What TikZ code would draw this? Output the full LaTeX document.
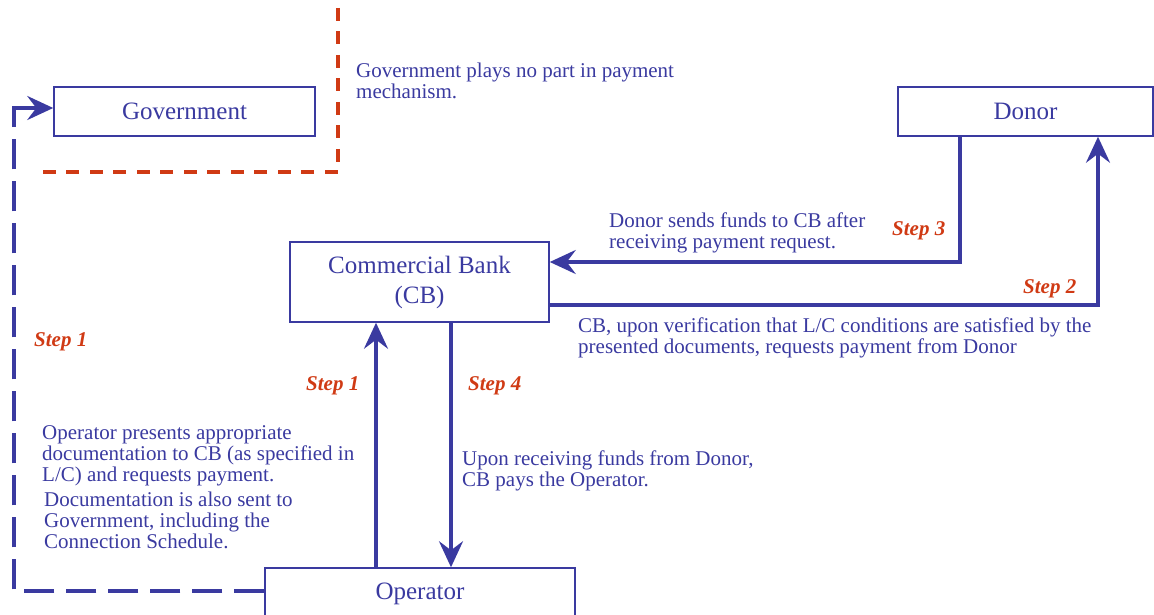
\documentclass[tikz,border=0pt]{standalone}
\usepackage{fontspec}
\setmainfont{Liberation Serif}
\usetikzlibrary{arrows.meta}
\definecolor{nb}{RGB}{58,58,160}
\definecolor{nr}{RGB}{208,58,20}
\tikzset{
  box/.style={draw=nb, line width=1.5pt, minimum height=49pt, inner sep=0pt, text=nb, font=\fontsize{25}{30}\selectfont},
  flow/.style={draw=nb, line width=3.6pt, -{Stealth[length=26pt,width=24pt,inset=9pt]}},
  dashflow/.style={draw=nb, line width=4.2pt, dash pattern=on 30pt off 12pt},
  bound/.style={draw=nr, line width=3.4pt, dash pattern=on 13pt off 10.5pt},
  note/.style={text=nb, align=left, inner sep=0pt, anchor=base west, font=\fontsize{21}{21}\selectfont},
  steplbl/.style={text=nr, inner sep=0pt, anchor=base west, font=\fontsize{21}{24}\selectfont\bfseries\itshape},
}
\begin{document}
\begin{tikzpicture}[x=1pt,y=-1pt]
\useasboundingbox (0,0) rectangle (1154,615);
% boxes
\node[box, minimum width=261pt] (gov) at (184.5,111.5) {Government};
\node[box, minimum width=255pt] (donor) at (1025.5,111.5) {Donor};
\node[box, minimum width=259pt, minimum height=80pt, align=center] (cb) at (419.5,282) {Commercial Bank\\(CB)};
\node[box, minimum width=310pt, minimum height=52pt] (op) at (420,594) {Operator};
% boundary
\draw[bound] (338,8) -- (338,172) -- (42,172);
% connectors
\draw[flow] ([xshift=-44pt]op.north) -- ([xshift=-43.5pt]cb.south);
\draw[flow] ([xshift=31.5pt]cb.south) -- ([xshift=31pt]op.north);
\draw[flow] ([xshift=-65.5pt]donor.south) |- ([yshift=20pt]cb.east);
\draw[flow] ([yshift=-23pt]cb.east) -| ([xshift=72.5pt]donor.south);
\coordinate (gc) at (14,108);
\draw[dashflow] ([yshift=3pt]op.west) -| (gc);
\draw[flow] ([yshift=-2pt]gc) |- (gc -| gov.west);
% texts (anchor at the baseline of the last line)
\node[note] (t1) at (356,99) {Government plays no part in payment\\mechanism.};
\node[note] (t2) at (609,248) {Donor sends funds to CB after\\receiving payment request.};
\node[note] (t3) at (578,353) {CB, upon verification that L/C conditions are satisfied by the\\presented documents, requests payment from Donor};
\node[note] (t4) at (462,486) {Upon receiving funds from Donor,\\CB pays the Operator.};
\node[note] (t5) at (42,481) {Operator presents appropriate\\documentation to CB (as specified in\\L/C) and requests payment.};
\node[note] (t6) at (44,548) {Documentation is also sent to\\Government, including the\\Connection Schedule.};
% step labels
\node[steplbl] (s1a) at (34,346) {Step 1};
\node[steplbl] (s1b) at (306,390) {Step 1};
\node[steplbl] (s4) at (468,390) {Step 4};
\node[steplbl] (s3) at (892,235) {Step 3};
\node[steplbl] (s2) at (1023,293) {Step 2};
\end{tikzpicture}
\end{document}
